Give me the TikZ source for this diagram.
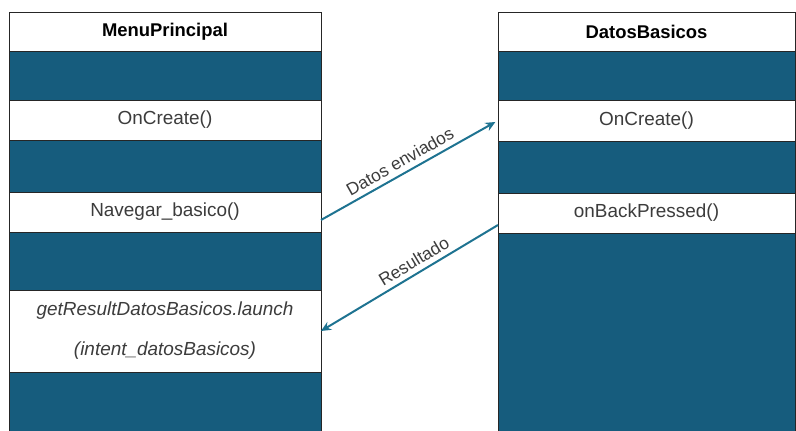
\documentclass[tikz,border=0pt]{standalone}
\usepackage{fontspec}
\setmainfont{Liberation Sans}
\usetikzlibrary{arrows.meta,positioning}
\definecolor{dblue}{RGB}{22,92,125}
\definecolor{arrowc}{RGB}{30,115,145}
\definecolor{txt}{RGB}{60,60,60}
\begin{document}
\begin{tikzpicture}[x=1bp,y=-1bp,
  cell/.style={draw=black!85, line width=0.8pt, fill=white, inner sep=0pt, outer sep=0pt,
    text=txt, font=\fontsize{19}{23}\selectfont, align=center},
  blk/.style={cell, fill=dblue},
  ttl/.style={cell, text=black, font=\fontsize{18.5}{22}\selectfont\bfseries},
  lw/.style={minimum width=312bp},
  rw/.style={minimum width=297bp},
  msg/.style={draw=arrowc, line width=2pt, -{Stealth[length=10bp,width=9bp]}},
  lbl/.style={text=txt, font=\fontsize{17.5}{20}\selectfont, sloped, above, inner sep=5bp}
]
\useasboundingbox (0,0) rectangle (796,430);
\clip (0,0) rectangle (796,430);
% left column
\node[ttl,lw,minimum height=39bp] (Ltitle) at (165,31.5) {MenuPrincipal};
\node[blk,lw,minimum height=49bp] (Lb1) at (165,75.5) {};
\node[cell,lw,minimum height=40bp] (Lon) at (165,120) {OnCreate()};
\node[blk,lw,minimum height=52bp] (Lb2) at (165,166) {};
\node[cell,lw,minimum height=40bp] (Lnav) at (165,212) {Navegar\_basico()};
\node[blk,lw,minimum height=58bp] (Lb3) at (165,261) {};
\node[cell,lw,minimum height=82bp,font=\fontsize{19}{40}\selectfont\itshape] (Lget) at (165,331) {getResultDatosBasicos.launch\\(intent\_datosBasicos)};
\node[blk,lw,minimum height=62bp] (Lb4) at (165,403) {};
% right column
\node[ttl,rw,minimum height=39bp] (Rtitle) at (646.5,31.5) {DatosBasicos};
\node[blk,rw,minimum height=49bp] (Rb1) at (646.5,75.5) {};
\node[cell,rw,minimum height=41bp] (Ron) at (646.5,120.5) {OnCreate()};
\node[blk,rw,minimum height=52bp] (Rb2) at (646.5,167) {};
\node[cell,rw,minimum height=40bp] (Rback) at (646.5,213) {onBackPressed()};
\node[blk,rw,minimum height=203bp] (Rb3) at (646.5,334.5) {};
% messages
\draw[msg, shorten >=3bp] ([yshift=-8bp]Lnav.east) -- (Ron.west)
  node[lbl, pos=0.48] {Datos enviados};
\draw[msg] ([yshift=-12bp]Rback.west) -- (Lget.east)
  node[lbl, pos=0.44] {Resultado};
\end{tikzpicture}
\end{document}
